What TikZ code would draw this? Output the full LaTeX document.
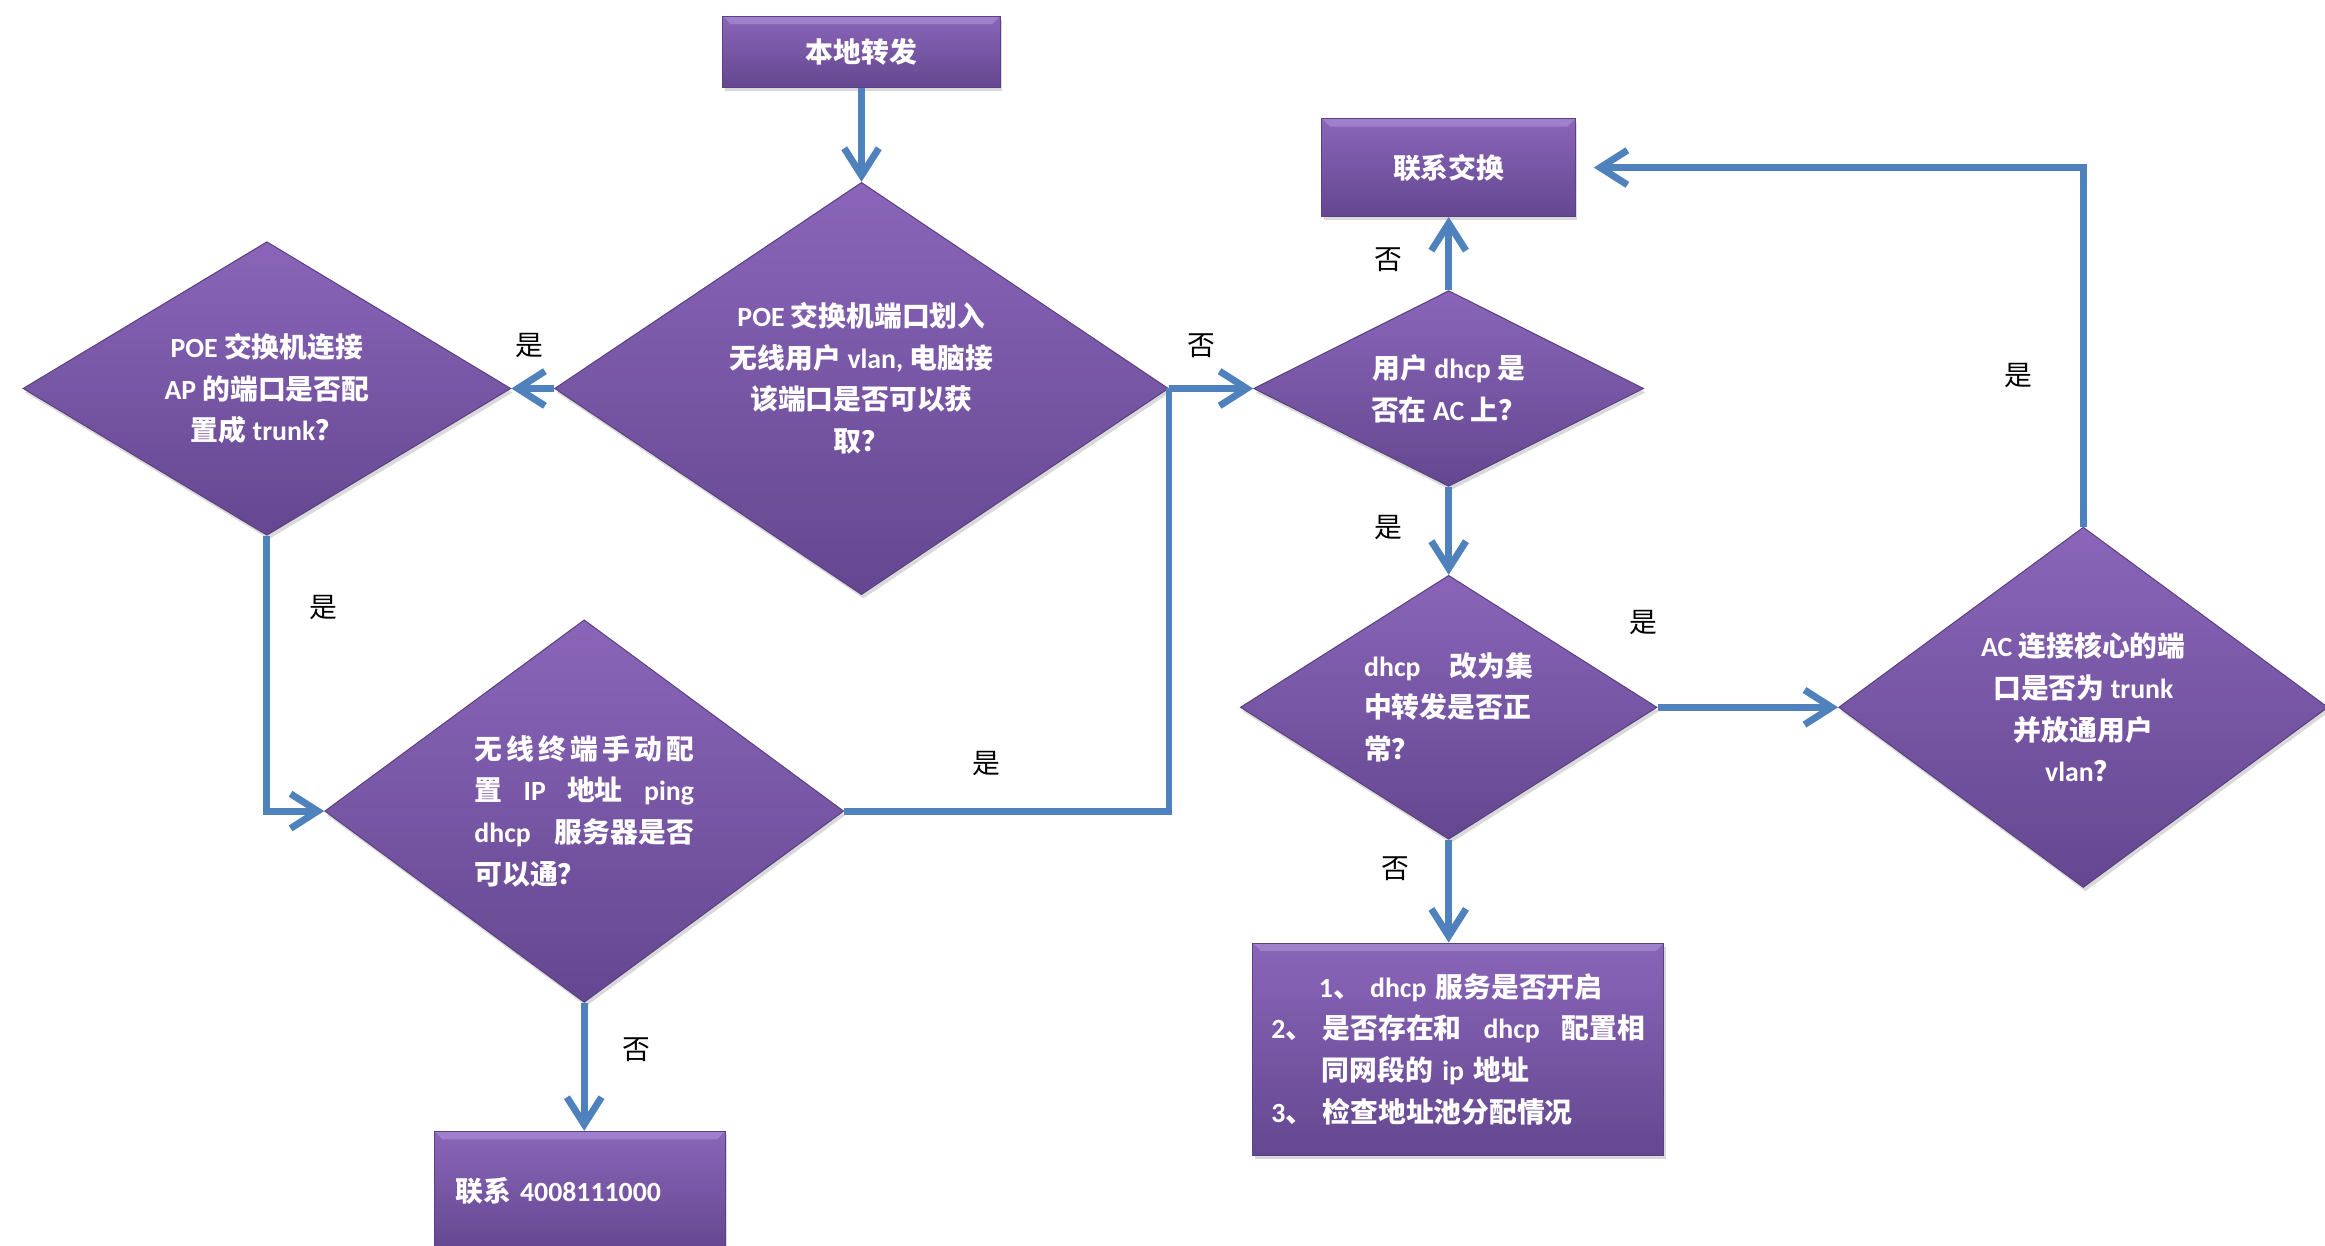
\documentclass[tikz,border=0pt]{standalone}
\usepackage{fontspec}
\setmainfont{Noto Sans CJK SC}
\newfontfamily\cjk{Noto Sans CJK SC}
\newfontfamily\latin{Carlito}
\newcommand{\en}[1]{{\latin\bfseries #1}}
\usetikzlibrary{shapes.geometric}
\usetikzlibrary{arrows.meta}
\usetikzlibrary{shadows}

\definecolor{boxtop}{HTML}{8A65B9}
\definecolor{boxbot}{HTML}{644790}
\definecolor{boxrim}{HTML}{5B4182}
\definecolor{boxhi}{HTML}{A88CD4}
\definecolor{linkblue}{HTML}{4F81BD}

\begin{document}
\begin{tikzpicture}[x=0.3mm,y=-0.3mm,>={Straight Barb[length=5.5mm,width=7mm]}]
			\tikzset{decision/.style = {shape=diamond, inner sep=0pt, draw=boxrim, semithick, top color=boxtop, bottom color=boxbot, text=white, align=center, font=\cjk\bfseries\fontsize{16}{24}\selectfont, drop shadow={shadow xshift=0.4mm, shadow yshift=-0.8mm, opacity=0.3}},
				action/.style = {shape=rectangle, draw=boxrim, semithick, top color=boxtop, bottom color=boxbot, text=white, font=\cjk\bfseries\fontsize{16}{24}\selectfont, drop shadow={shadow xshift=0.4mm, shadow yshift=-0.8mm, opacity=0.3},
					path picture={\fill[boxhi, opacity=0.7] (path picture bounding box.north west) -- (path picture bounding box.north east) -- ([xshift=-1.6mm,yshift=-1.6mm]path picture bounding box.north east) -- ([xshift=1.6mm,yshift=-1.6mm]path picture bounding box.north west) -- cycle;}},
				link/.style = {draw=linkblue, line width=1.4mm},
				answer/.style = {font=\cjk\fontsize{16}{18}\selectfont}}
			\useasboundingbox (0,0) rectangle (1568,840);
			
			\node[action, minimum width=56.1mm, minimum height=14.4mm] (LOCAL) at (581,35) {本地转发};
			\node[decision, minimum width=124.2mm, minimum height=83.4mm, aspect=1.49] (PORT) at (581,262)
			{\en{POE} 交换机端口划入\\
				无线用户 \en{vlan,} 电脑接\\
				该端口是否可以获\\
				\raisebox{0pt}[\height][\dimexpr\depth+4.2mm]{取？}};
			\node[decision, minimum width=98.7mm, minimum height=59.4mm, aspect=1.66] (TRUNK) at (180,262)
			{\en{POE} 交换机连接\\
				\en{AP} 的端口是否配\\
				置成 \en{trunk}？};
			\node[decision, minimum width=105mm, minimum height=77.4mm, aspect=1.36] (PING) at (394,547)
			{\makebox[44.4mm][s]{无 线 终 端 手 动 配}\\
				\makebox[44.4mm][s]{置 \en{IP} 地址 \en{ping}}\\
				\makebox[44.4mm][s]{\en{dhcp} 服务器是否}\\
				\makebox[44.4mm][l]{可以通？}};
			\node[action, minimum width=58.8mm, minimum height=24mm, inner xsep=4.2mm, text width=50.4mm, align=left] (CALL) at (391,803) {联系 \en{4008111000}};
			
			\node[action, minimum width=51.3mm, minimum height=19.8mm] (SWITCH) at (977,113) {联系交换};
			\node[decision, minimum width=78.9mm, minimum height=39.6mm, aspect=1.99] (ONAC) at (977,262)
			{用户 \en{dhcp} 是\\
				否在 \en{AC} 上？};
			\node[decision, minimum width=84.3mm, minimum height=53.4mm, aspect=1.58] (CENTRAL) at (977,477)
			{\makebox[34.2mm][s]{\en{dhcp} 改为集}\\
				\makebox[34.2mm][s]{中转发是否正}\\
				\makebox[34.2mm][l]{常？}};
			\node[decision, minimum width=99mm, minimum height=72.9mm, aspect=1.36] (CORE) at (1405,477)
			{\en{AC} 连接核心的端\\
				口是否为 \en{trunk}\\
				并放通用户\\
				\en{vlan}？};
			\node[action, minimum width=83.1mm, minimum height=42.9mm, inner xsep=3.75mm, text width=75.6mm, align=left] (CHECK) at (983.5,707.5)
			{\hspace*{9.6mm}\en{1}、 \en{dhcp} 服务是否开启\\
				\makebox[75.6mm][l]{\en{2}、 是否存在和\hfill\en{dhcp}\hfill 配置相}\\
				\hspace*{10.2mm}同网段的 \en{ip} 地址\\
				\en{3}、 检查地址池分配情况};
			
			% connectors
			\draw[link,->] (LOCAL) -- (PORT);
			\draw[link,->] (PORT.west) -- (TRUNK.east);
			\draw[link,->] (PORT.east) -- (ONAC.west);
			\draw[link,->] (TRUNK.south) |- (PING.west);
			\draw[link] (PING.east) -| (PORT.east);
			\draw[link,->] (PING.south) -- (PING.south |- CALL.north);
			\draw[link,->] (ONAC.north) -- (SWITCH.south);
			\draw[link,->] (ONAC.south) -- (CENTRAL.north);
			\draw[link,->] (CENTRAL.east) -- (CORE.west);
			\draw[link,->] (CENTRAL.south) -- (CENTRAL.south |- CHECK.north);
			\draw[link,->,shorten >=3.6mm] (CORE.north) |- (SWITCH.east);
			
			% answers
			\node[answer] (YESTRUNK) at (357,233) {是};
			\node[answer] (NOPORT) at (810,233) {否};
			\node[answer] (YESPING) at (218,410) {是};
			\node[answer] (YESBACK) at (665,515) {是};
			\node[answer] (NOCALL) at (429,708) {否};
			\node[answer] (NOSWITCH) at (936,175) {否};
			\node[answer] (YESAC) at (936,356) {是};
			\node[answer] (YESCORE) at (1108,420) {是};
			\node[answer] (NOCHECK) at (941,586) {否};
			\node[answer] (YESSWITCH) at (1361,253) {是};
		\end{tikzpicture}
\end{document}
